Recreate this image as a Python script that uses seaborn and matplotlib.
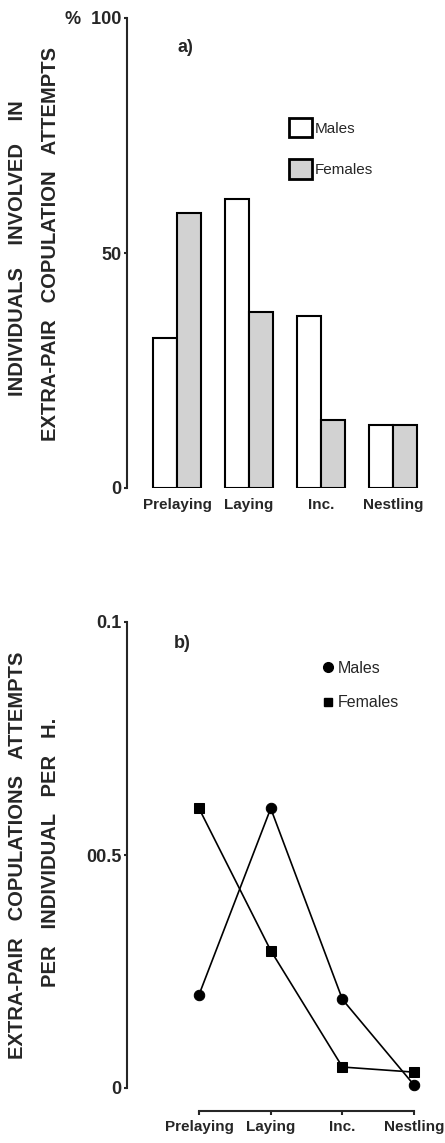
import matplotlib
matplotlib.use("Agg")
import matplotlib.pyplot as plt
import seaborn as sns
import pandas as pd
from matplotlib.patches import Patch
from matplotlib.lines import Line2D

# ---- data ----
stages = ["Prelaying", "Laying", "Inc.", "Nestling"]
sexes = ["Males", "Females"]
males_pct = [32, 61.5, 36.5, 13.5]
females_pct = [58.5, 37.5, 14.5, 13.5]
males_rate = [0.020, 0.060, 0.019, 0.0006]
females_rate = [0.060, 0.0295, 0.0045, 0.0034]
yticks_a = [0, 50, 100]
yticklabels_a = ["0", "50", "%  100"]
yticks_b = [0, 0.05, 0.1]
yticklabels_b = ["0", "00.5", "0.1"]

df_a = pd.DataFrame({
    "stage": stages * 2,
    "sex": ["Males"] * 4 + ["Females"] * 4,
    "pct": males_pct + females_pct,
})
df_b = pd.DataFrame({
    "stage": stages * 2,
    "sex": ["Males"] * 4 + ["Females"] * 4,
    "rate": males_rate + females_rate,
})

sns.set_theme(style="ticks")
plt.rcParams["font.family"] = ["Liberation Sans", "DejaVu Sans"]

W, H = 445, 1143
fig = plt.figure(figsize=(W / 100, H / 100), dpi=100)

def px_axes(x0, x1, ytop, ybot):
    return fig.add_axes([x0 / W, 1 - ybot / H, (x1 - x0) / W, (ybot - ytop) / H])

GRAY = "#d2d2d2"
SPINE_LW = 1.5

# ---- panel a ----
ax1 = px_axes(127, 440, 18, 488)
sns.barplot(data=df_a, x="stage", y="pct", hue="sex", order=stages, hue_order=sexes,
            palette={"Males": "white", "Females": GRAY}, saturation=1,
            edgecolor="black", linewidth=1.5, width=0.667, gap=0, ax=ax1, legend=False)
ax1.set_xlim(-0.694, 3.653)
ax1.set_ylim(0, 100)
for s in ["top", "right", "bottom"]:
    ax1.spines[s].set_visible(False)
ax1.spines["left"].set_linewidth(SPINE_LW)
ax1.set_yticks(yticks_a)
ax1.set_yticklabels(yticklabels_a, fontsize=13, fontweight="bold")
ax1.tick_params(axis="y", length=2.5, width=SPINE_LW, pad=1.5)
ax1.tick_params(axis="x", length=0, pad=7)
for t in ax1.get_xticklabels():
    t.set_fontsize(11)
    t.set_fontweight("bold")
ax1.set_xlabel("")
ax1.set_ylabel("")
fig.text(185 / W, 1 - 48 / H, "a)", fontsize=13, fontweight="bold", ha="center", va="center")

handles_a = [Patch(facecolor="white", edgecolor="black", linewidth=2),
             Patch(facecolor=GRAY, edgecolor="black", linewidth=2)]
fig.legend(handles_a, sexes, loc="upper left", bbox_to_anchor=(289 / W, 1 - 118 / H),
           frameon=False, borderpad=0, borderaxespad=0, fontsize=11,
           handlelength=1.5, handleheight=1.57, labelspacing=1.44, handletextpad=0.2)

fig.text(18 / W, 1 - 248 / H, "INDIVIDUALS    INVOLVED    IN", rotation=90,
         ha="center", va="center", fontsize=14.5, fontweight="bold")
fig.text(51 / W, 1 - 244 / H, "EXTRA-PAIR   COPULATION   ATTEMPTS", rotation=90,
         ha="center", va="center", fontsize=14.5, fontweight="bold")

# ---- panel b ----
pxu = (1088 - 622) / 0.1
ax2 = px_axes(127, 440, 622 - 0.005 * pxu, 1088 + 0.005 * pxu)
sns.lineplot(data=df_b, x="stage", y="rate", hue="sex", style="sex", hue_order=sexes,
             style_order=sexes, markers={"Males": "o", "Females": "s"}, dashes=False,
             palette={"Males": "black", "Females": "black"}, linewidth=1.2,
             markersize=7.5, markeredgecolor="black", legend=False, ax=ax2)
ax2.set_ylim(-0.005, 0.105)
ax2.set_yticks(yticks_b)
ax2.set_yticklabels(yticklabels_b, fontsize=13, fontweight="bold")
ax2.set_xticks(range(len(stages)))
ax2.set_xticklabels(stages, fontsize=11, fontweight="bold")
ax2.set_xlim(-1.004, 3.36)
sns.despine(ax=ax2, trim=True)
ax2.spines["left"].set_bounds(0, 0.1)
ax2.spines["bottom"].set_bounds(0, 3)
ax2.spines["left"].set_linewidth(SPINE_LW)
ax2.spines["bottom"].set_linewidth(SPINE_LW)
ax2.tick_params(axis="y", length=2.5, width=SPINE_LW, pad=1.5)
ax2.tick_params(axis="x", length=3, width=SPINE_LW, pad=3)
ax2.set_xlabel("")
ax2.set_ylabel("")
for ln in ax2.lines:
    ln.set_clip_on(False)
fig.text(182 / W, 1 - 643 / H, "b)", fontsize=13, fontweight="bold", ha="center", va="center")

handles_b = [Line2D([], [], marker="o", linestyle="none", color="black", markersize=7),
             Line2D([], [], marker="s", linestyle="none", color="black", markersize=5.5)]
fig.legend(handles_b, sexes, loc="upper left", bbox_to_anchor=(322 / W, 1 - 661 / H),
           frameon=False, borderpad=0, borderaxespad=0, fontsize=11.5,
           handlelength=0.7, labelspacing=1.2, handletextpad=0.3)

fig.text(18 / W, 1 - 855 / H, "EXTRA-PAIR   COPULATIONS   ATTEMPTS", rotation=90,
         ha="center", va="center", fontsize=14.5, fontweight="bold")
fig.text(51 / W, 1 - 852 / H, "PER   INDIVIDUAL   PER   H.", rotation=90,
         ha="center", va="center", fontsize=14.5, fontweight="bold")

fig.savefig("out.png", dpi=100)
